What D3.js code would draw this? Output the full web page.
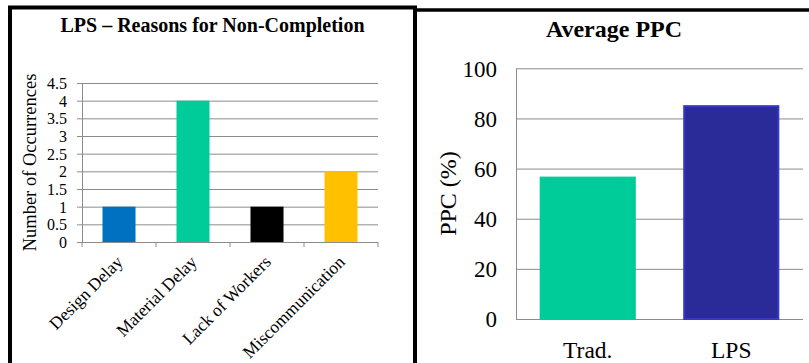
<!DOCTYPE html>
<html>
<head>
<meta charset="utf-8">
<script src="https://cdn.jsdelivr.net/npm/d3@7/dist/d3.min.js"></script>
<style>
  html, body { margin: 0; padding: 0; background: #fff; }
  svg { display: block; }
  text { font-family: "Liberation Serif", "Times New Roman", serif; fill: #000; }
</style>
</head>
<body>
<svg id="chart" width="809" height="363"></svg>
<script>
// Left panel: reasons for non-completion under LPS
const reasonCategories = ["Design Delay", "Material Delay", "Lack of Workers", "Miscommunication"];
const reasonCounts = [1, 4, 1, 2];
const reasonColors = ["#0070C0", "#00CC99", "#000000", "#FFC000"];
const reasonTicks = [0, 0.5, 1, 1.5, 2, 2.5, 3, 3.5, 4, 4.5];

// Right panel: average PPC by planning approach
const ppcCategories = ["Trad.", "LPS"];
const ppcValues = [56.8, 85.3];
const ppcColors = ["#00CC99", "#2B2A99"];
const ppcStrokes = ["#00CC99", "#3838C8"];
const ppcTicks = [0, 20, 40, 60, 80, 100];

const svg = d3.select("#chart");
const gridColor = "#8c8c8c";
const serif = "'Liberation Serif', 'Times New Roman', serif";

// ---------- Left chart ----------
(function () {
  const g = svg.append("g");
  const x = d3.scaleBand().domain(reasonCategories).range([82, 378])
    .paddingInner(0.554).paddingOuter(0.277);
  const xb = d3.scaleBand().domain(reasonCategories).range([82, 378]);
  const y = d3.scaleLinear().domain([0, 4.5]).range([242, 83]);

  // gridlines + y ticks
  const yAxis = g.append("g").attr("transform", "translate(82,0)")
    .call(d3.axisLeft(y).tickValues(reasonTicks).tickFormat(d3.format("~g"))
      .tickSizeInner(5).tickSizeOuter(0).tickPadding(10))
    .attr("font-family", serif);
  yAxis.select(".domain").attr("stroke", gridColor);
  yAxis.selectAll(".tick line").attr("stroke", gridColor);
  yAxis.selectAll(".tick text").attr("font-size", 16).attr("dy", "0.34em");
  g.append("g").attr("transform", "translate(82,0)")
    .call(d3.axisLeft(y).tickValues(reasonTicks).tickFormat("").tickSize(-(378 - 82)))
    .call(s => s.select(".domain").remove())
    .selectAll(".tick line").attr("stroke", gridColor);

  // category boundary ticks on the x axis
  const bounds = reasonCategories.map(c => xb(c)).concat([xb.range()[1]]);
  g.selectAll(".xtick").data(bounds).enter().append("line")
    .attr("x1", d => d).attr("x2", d => d)
    .attr("y1", y(0)).attr("y2", y(0) + 5)
    .attr("stroke", gridColor);

  // bars
  g.selectAll(".bar").data(reasonCounts).enter().append("rect")
    .attr("x", (d, i) => x(reasonCategories[i]))
    .attr("width", x.bandwidth())
    .attr("y", d => y(d))
    .attr("height", d => y(0) - y(d))
    .attr("fill", (d, i) => reasonColors[i]);

  // rotated category labels
  g.selectAll(".xlab").data(reasonCategories).enter().append("text")
    .attr("transform", d => `translate(${xb(d) + xb.bandwidth() / 2 + 5},${y(0) + 21}) rotate(-45)`)
    .attr("text-anchor", "end")
    .attr("font-size", 17.5)
    .text(d => d);

  // axis title
  g.append("text")
    .attr("transform", `translate(36,${(83 + 242) / 2}) rotate(-90)`)
    .attr("text-anchor", "middle")
    .attr("font-size", 18.5)
    .text("Number of Occurrences");

  // chart title
  g.append("text").attr("x", 212.5).attr("y", 32)
    .attr("text-anchor", "middle").attr("font-size", 20).attr("font-weight", "bold")
    .text("LPS \u2013 Reasons for Non-Completion");
})();

// ---------- Right chart ----------
(function () {
  const g = svg.append("g");
  const x = d3.scaleBand().domain(ppcCategories).range([516, 803])
    .paddingInner(0.33).paddingOuter(0.165);
  const y = d3.scaleLinear().domain([0, 100]).range([319, 68.3]);

  const yAxis = g.append("g").attr("transform", "translate(516,0)")
    .call(d3.axisLeft(y).tickValues(ppcTicks).tickSize(0).tickPadding(19))
    .attr("font-family", serif);
  yAxis.select(".domain").attr("stroke", gridColor);
  yAxis.selectAll(".tick text").attr("font-size", 23).attr("dy", "0.34em");
  g.append("g").attr("transform", "translate(516,0)")
    .call(d3.axisLeft(y).tickValues(ppcTicks).tickFormat("").tickSize(-(803 - 516)))
    .call(s => s.select(".domain").remove())
    .selectAll(".tick line").attr("stroke", gridColor);

  g.selectAll(".bar").data(ppcValues).enter().append("rect")
    .attr("x", (d, i) => x(ppcCategories[i]) + 1)
    .attr("width", x.bandwidth() - 2)
    .attr("y", d => y(d) + 1)
    .attr("height", d => y(0) - y(d) - 1)
    .attr("fill", (d, i) => ppcColors[i])
    .attr("stroke", (d, i) => ppcStrokes[i])
    .attr("stroke-width", 2);

  g.selectAll(".xlab").data(ppcCategories).enter().append("text")
    .attr("x", d => x(d) + x.bandwidth() / 2)
    .attr("y", 358)
    .attr("text-anchor", "middle")
    .attr("font-size", 23.5)
    .text(d => d);

  g.append("text")
    .attr("transform", `translate(456,${(68 + 319) / 2}) rotate(-90)`)
    .attr("text-anchor", "middle")
    .attr("font-size", 24)
    .text("PPC (%)");

  g.append("text").attr("x", 614).attr("y", 37)
    .attr("text-anchor", "middle").attr("font-size", 24).attr("font-weight", "bold")
    .text("Average PPC");
})();

// ---------- Panel frames ----------
const frame = svg.append("g").attr("fill", "none").attr("stroke", "#000");
frame.append("path").attr("stroke-width", 4)
  .attr("d", "M10,363 L10,7.5 L415,7.5 L415,363");
frame.append("path").attr("stroke-width", 3.5)
  .attr("d", "M413,10 L809,10");
</script>
</body>
</html>
